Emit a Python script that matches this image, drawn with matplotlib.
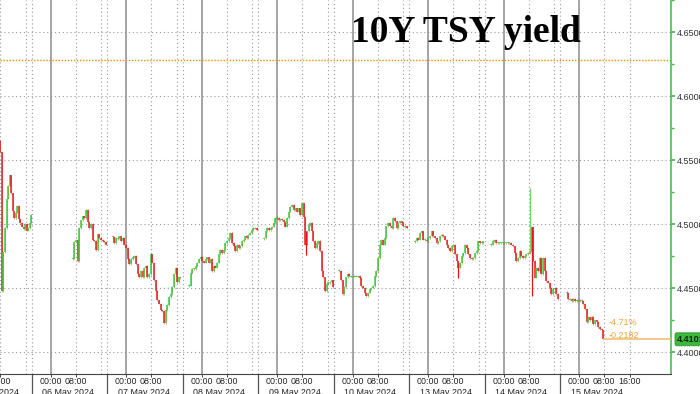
import matplotlib
matplotlib.use("Agg")
import matplotlib.pyplot as plt
import matplotlib.transforms as mtransforms
import numpy as np
import pandas as pd

# ---------------- data ----------------
trade_days = ["2024-05-03", "2024-05-06", "2024-05-07", "2024-05-08", "2024-05-09",
              "2024-05-10", "2024-05-13", "2024-05-14", "2024-05-15"]
date_labels = ["03 May 2024", "06 May 2024", "07 May 2024", "08 May 2024", "09 May 2024",
               "10 May 2024", "13 May 2024", "14 May 2024", "15 May 2024"]

s1_span = ("2024-05-03 07:30", "2024-05-03 17:50")
s1_vals = [4.565, 4.556, 4.448, 4.478, 4.497, 4.520, 4.530, 4.538, 4.524, 4.510, 4.505,
           4.509, 4.514, 4.504, 4.501, 4.498, 4.496, 4.500, 4.495, 4.497, 4.501, 4.507]

s2_span = ("2024-05-06 07:00", "2024-05-06 17:35")
s2_vals = [4.473, 4.486, 4.488, 4.471, 4.497, 4.503, 4.506, 4.505, 4.511, 4.502, 4.497,
           4.500, 4.488, 4.487, 4.480, 4.492, 4.489, 4.488, 4.487, 4.486, 4.484]

s3_span = ("2024-05-06 19:45", "2024-05-07 17:15")
s3_vals = [4.490, 4.485, 4.489, 4.489, 4.4905, 4.4867, 4.489, 4.484, 4.4815, 4.4726, 4.469,
           4.4726, 4.474, 4.475, 4.469, 4.461, 4.4585, 4.4636, 4.4585, 4.466, 4.4674, 4.4585,
           4.461, 4.4764, 4.470, 4.456, 4.448, 4.4405, 4.438, 4.433, 4.432, 4.4226, 4.433,
           4.437, 4.443, 4.4456, 4.4508, 4.461, 4.466, 4.4546, 4.4585, 4.4585]

s4_span = ("2024-05-07 19:58", "2024-05-08 17:30")
s4_vals = [4.452, 4.462, 4.465, 4.465, 4.4674, 4.470, 4.4726, 4.4744, 4.471, 4.470, 4.4726,
           4.474, 4.470, 4.4726, 4.4636, 4.4674, 4.466, 4.470, 4.4764, 4.480, 4.4774, 4.480,
           4.4854, 4.4867, 4.4892, 4.493, 4.4854, 4.483, 4.479, 4.484, 4.4815, 4.483, 4.4867,
           4.488, 4.4905, 4.4892, 4.4918, 4.493, 4.4956, 4.4969, 4.4969, 4.4956]

s5_span = ("2024-05-08 19:47", "2024-05-09 17:50")
s5_vals = [4.489, 4.4944, 4.497, 4.4956, 4.497, 4.498, 4.5008, 4.5046, 4.505, 4.5033, 4.504,
           4.5033, 4.502, 4.498, 4.5046, 4.5097, 4.5136, 4.5149, 4.511, 4.5123, 4.5097, 4.5123,
           4.507, 4.5162, 4.5059, 4.484, 4.4944, 4.4995, 4.5008, 4.4944, 4.4867, 4.4815, 4.4854,
           4.4867, 4.479, 4.4636, 4.4585, 4.448, 4.4533, 4.4546, 4.4546, 4.456, 4.451]

s6_span = ("2024-05-09 19:45", "2024-05-10 17:10")
s6_vals = [4.4636, 4.456, 4.4456, 4.4508, 4.4585, 4.461, 4.4595, 4.4595, 4.4595, 4.4595,
           4.4595, 4.4595, 4.458, 4.4518, 4.4505, 4.4466, 4.444, 4.4466, 4.4492, 4.4505, 4.4518,
           4.4595, 4.4634, 4.4737, 4.484, 4.4879, 4.484, 4.4892, 4.4982, 4.5008, 4.4982, 4.4969,
           4.5046, 4.5021, 4.4969, 4.5008, 4.5021, 4.5008, 4.4982, 4.4982, 4.4969]

s7_span = ("2024-05-12 19:47", "2024-05-13 17:30")
s7_vals = [4.4866, 4.4892, 4.4879, 4.493, 4.4943, 4.4879, 4.4879, 4.4866, 4.4892, 4.4905,
           4.4943, 4.4905, 4.4892, 4.4853, 4.4866, 4.4905, 4.4918, 4.4905, 4.4879, 4.484, 4.4814,
           4.4789, 4.4827, 4.484, 4.4763, 4.4711, 4.466, 4.4698, 4.475, 4.4776, 4.484, 4.4814,
           4.4763, 4.4737, 4.4724, 4.4737, 4.4776, 4.4789, 4.4866, 4.4853, 4.4853, 4.4866]

s8_span = ("2024-05-13 20:00", "2024-05-14 17:15")
s8_vals = [4.484, 4.4866, 4.4879, 4.4853, 4.4853, 4.4853, 4.4853, 4.4853, 4.4853, 4.4853,
           4.4853, 4.4853, 4.484, 4.4827, 4.4776, 4.4711, 4.4737, 4.4789, 4.475, 4.4737, 4.475,
           4.4763, 4.4776, 4.4789, 4.498, 4.4711, 4.4582, 4.466, 4.4634, 4.4737, 4.4608, 4.4737,
           4.4634, 4.4557, 4.4544, 4.4505, 4.4454, 4.4492, 4.4505, 4.4454, 4.4415]

s9_span = ("2024-05-14 20:00", "2024-05-15 07:40")
s9_vals = [4.4466, 4.4415, 4.4415, 4.4402, 4.4415, 4.4402, 4.4402, 4.4402, 4.4402, 4.4402,
           4.4376, 4.4338, 4.4235, 4.4273, 4.4248, 4.4273, 4.4222, 4.4248, 4.4235, 4.4196,
           4.4183, 4.417, 4.4101]

spike_times = ["2024-05-09 09:05", "2024-05-13 09:30", "2024-05-14 08:25", "2024-05-14 09:00"]
spike_lo = [4.476, 4.458, 4.479, 4.444]
spike_hi = [4.495, 4.470, 4.528, 4.498]
spike_up = [False, False, True, False]

ref_level = 4.6283
last_price = 4.4101
y_ticks = [4.40, 4.45, 4.50, 4.55, 4.60, 4.65]

# ---------------- helpers ----------------
days_ts = [pd.Timestamp(d) for d in trade_days]


def to_x(ts):
    t = pd.Timestamp(ts)
    day = t.normalize()
    hours = (t - day).total_seconds() / 3600.0
    if day in days_ts:
        return days_ts.index(day) + hours / 24.0
    nxt = next(i for i, d in enumerate(days_ts) if d > day)
    return nxt - (24.0 - hours) / 24.0


GREEN = "#33cc33"
RED = "#e8141a"
GRID = "#9a9a9a"

fig = plt.figure(figsize=(7.0, 3.94), dpi=100)
ax = fig.add_axes([0.0, 20 / 394, 671 / 700, 374 / 394])
ax.set_xlim(0.3285, 9.216)
ax.set_ylim(4.383, 4.672)

# grid
for yv in y_ticks:
    ax.axhline(yv, color=GRID, lw=0.8, ls=(0, (1, 2.5)), zorder=1)
for i in range(len(trade_days)):
    if i > 0:
        ax.axvline(i, color="#8c8c8c", lw=1.1, zorder=1)
    ax.axvline(i + 8 / 24, color=GRID, lw=0.8, ls=(0, (1, 2.5)), zorder=1)
    ax.axvline(i + 16 / 24, color=GRID, lw=0.8, ls=(0, (1, 2.5)), zorder=1)
    if i < len(trade_days) - 1:
        ax.axvline(i + 18 / 24, color=GRID, lw=0.8, ls=(0, (1, 2.5)), zorder=1)

ax.axhline(ref_level, color="#e8900a", lw=1.0, ls=(0, (1, 1.2)), zorder=2)

# candles
sessions = [(s1_span, s1_vals), (s2_span, s2_vals), (s3_span, s3_vals), (s4_span, s4_vals),
            (s5_span, s5_vals), (s6_span, s6_vals), (s7_span, s7_vals), (s8_span, s8_vals),
            (s9_span, s9_vals)]
last_x = None
for span, vals in sessions:
    xs = np.linspace(to_x(span[0]), to_x(span[1]), len(vals))
    closes = np.array(vals)
    opens = np.concatenate([[closes[0]], closes[:-1]])
    lo = np.minimum(opens, closes)
    hi = np.maximum(opens, closes)
    small = (hi - lo) < 0.0008
    lo = np.where(small, lo - 0.0004, lo)
    hi = np.where(small, hi + 0.0004, hi)
    cols = [GREEN if c >= o else RED for o, c in zip(opens, closes)]
    ax.vlines(xs, lo - 0.0006, hi + 0.0006, colors="#9a6a1e", lw=0.6, alpha=0.6, zorder=3)
    ax.vlines(xs, lo, hi, colors=cols, lw=1.25, alpha=0.85, zorder=3)
    last_x = xs[-1]

for t, l, h, up in zip(spike_times, spike_lo, spike_hi, spike_up):
    ax.vlines(to_x(t), l, h, colors=("#6fd86f" if up else RED), lw=0.9, zorder=3)

# last price line and annotations
ax.hlines(last_price, last_x, 9.216, color="#f0c078", lw=1.2, zorder=4)
chg = last_price - ref_level
pct = chg / ref_level * 100
ax.text(last_x + 0.07, 4.4233, f"{pct:.2f}%", color="#eba43a", fontsize=6.5,
        family="Liberation Sans", va="center", ha="left", zorder=5)
ax.text(last_x + 0.07, 4.4133, f"{chg:.4f}", color="#eba43a", fontsize=6.5,
        family="Liberation Sans", va="center", ha="left", zorder=5)

# spines
for s in ["top", "left"]:
    ax.spines[s].set_visible(False)
ax.spines["bottom"].set_color("#444444")
ax.spines["bottom"].set_linewidth(0.8)
ax.spines["right"].set_color("#4cc04c")
ax.spines["right"].set_linewidth(1.2)

# right y axis
ax.yaxis.tick_right()
ax.set_yticks(y_ticks)
ax.set_yticklabels([f"{v:.4f}" for v in y_ticks])
ax.set_yticks([v + 0.025 for v in y_ticks[:-1]] + [4.675], minor=True)
ax.tick_params(axis="y", which="major", colors="#3cb83c", length=3, width=1.2, pad=1.5,
               labelsize=6.5, labelcolor="#333333")
ax.tick_params(axis="y", which="minor", colors="#3cb83c", length=2, width=1.0)
for lab in ax.get_yticklabels():
    lab.set_family("Liberation Sans")

# green tag for last price
ytrans = mtransforms.blended_transform_factory(ax.transAxes, ax.transData)
tag_tr = mtransforms.offset_copy(ytrans, fig=fig, x=6, y=0, units="dots")
ax.text(1.0, last_price, f"{last_price:.4f}", transform=tag_tr, fontsize=6.5,
        family="Liberation Sans", fontweight="bold", color="#0d2a0d", va="center", ha="left",
        bbox=dict(boxstyle="round,pad=0.22", fc="#3cb83c", ec="#2a9a2a", lw=0.6),
        clip_on=False, zorder=6)

# bottom x axis labels
tick_pos, tick_lab = [], []
for i in range(len(trade_days)):
    if i > 0:
        tick_pos.append(i); tick_lab.append("00:00")
    tick_pos.append(i + 8 / 24); tick_lab.append("08:00")
tick_pos.append(len(trade_days) - 1 + 16 / 24); tick_lab.append("16:00")
ax.set_xticks(tick_pos)
ax.set_xticklabels([])
ax.tick_params(axis="x", length=2, width=0.7, colors="#444444")

xtr = ax.get_xaxis_transform()
lab_tr = mtransforms.offset_copy(xtr, fig=fig, x=0, y=-3, units="dots")
date_tr = mtransforms.offset_copy(xtr, fig=fig, x=0, y=-14, units="dots")
for p, l in zip(tick_pos, tick_lab):
    ax.text(p, 0, l, transform=lab_tr, ha="center", va="top", fontsize=6.4,
            family="Liberation Sans", color="#222222", clip_on=False)
for i, d in enumerate(date_labels):
    ax.text(i + 0.23, 0, d, transform=date_tr, ha="center", va="top", fontsize=6.4,
            family="Liberation Sans", color="#222222", clip_on=False)
    if i < len(trade_days) - 1:
        ax.plot([i + 18 / 24, i + 18 / 24], [0, -0.06], transform=xtr, color="#555555",
                lw=0.9, clip_on=False)

# title
fig.text(466 / 700, 1 - 42 / 394, "10Y TSY yield", ha="center", va="baseline",
         family="Liberation Serif", fontweight="bold", fontsize=27, color="black")

fig.savefig("out.png", dpi=100, facecolor="white")
